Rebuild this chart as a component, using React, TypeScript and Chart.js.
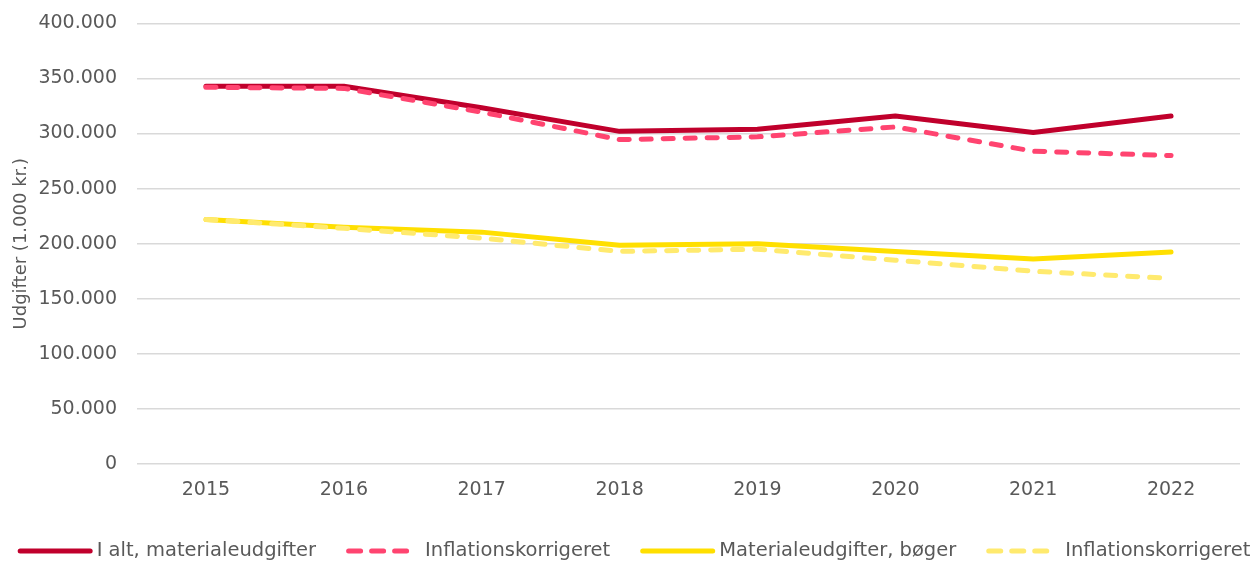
import React, { useEffect, useRef } from "react";
import { Chart, registerables } from "chart.js";

Chart.register(...registerables);

const years = ["2015", "2016", "2017", "2018", "2019", "2020", "2021", "2022"];
const iAltMaterialeudgifter = [343000, 343000, 323500, 302000, 304000, 316000, 301000, 316000];
const iAltInflationskorrigeret = [342000, 341000, 319500, 294500, 297000, 306000, 284000, 280000];
const boegerMaterialeudgifter = [222000, 215000, 210500, 198500, 200000, 193000, 186000, 192500];
const boegerInflationskorrigeret = [222000, 214000, 205000, 193000, 195000, 185000, 175000, 168500];
const yTicks = [0, 50000, 100000, 150000, 200000, 250000, 300000, 350000, 400000];
const seriesLabels = ["I alt, materialeudgifter", "Inflationskorrigeret", "Materialeudgifter, bøger", "Inflationskorrigeret"];
const seriesColors = ["#C0002C", "#FF4470", "#FFDF00", "#FFEA6E"];
const seriesDashed = [false, true, false, true];

const FONT = "'DejaVu Sans', sans-serif";
const TEXT = "#595959";

function fmt(v: number): string {
  const s = Math.round(v).toString();
  return s.replace(/\B(?=(\d{3})+(?!\d))/g, ".");
}

// Bottom legend drawn from the dataset list (legend order = original series order)
const bottomLegend = {
  id: "bottomLegend",
  afterDraw(chart: any) {
    const ctx = chart.ctx as CanvasRenderingContext2D;
    const datasets = chart.data.datasets as any[];
    const items = [...datasets].sort((a, b) => a.legendIndex - b.legendIndex);
    ctx.save();
    ctx.font = `19.5px ${FONT}`;
    const textOffset = 79;
    const gap = 30;
    const widths = items.map((d) => textOffset + ctx.measureText(d.label).width);
    const total = widths.reduce((a, b) => a + b, 0) + gap * (items.length - 1);
    let x = 634 - total / 2;
    const y = 551;
    items.forEach((d, i) => {
      ctx.save();
      ctx.strokeStyle = d.borderColor;
      ctx.lineWidth = 5;
      ctx.lineCap = "round";
      const dashed = d.borderDash && d.borderDash.length > 0;
      ctx.setLineDash(dashed ? [12, 11] : []);
      ctx.beginPath();
      ctx.moveTo(x + 2.5, y);
      ctx.lineTo(x + 2.5 + (dashed ? 58 : 70), y);
      ctx.stroke();
      ctx.restore();
      ctx.fillStyle = TEXT;
      ctx.textBaseline = "middle";
      ctx.textAlign = "left";
      ctx.fillText(d.label, x + textOffset, y);
      x += widths[i] + gap;
    });
    ctx.restore();
  },
};

export default function App() {
  const ref = useRef<HTMLCanvasElement | null>(null);
  useEffect(() => {
    if (!ref.current) return;
    const dash = [10, 12];
    const dataArrays = [iAltMaterialeudgifter, iAltInflationskorrigeret, boegerMaterialeudgifter, boegerInflationskorrigeret];
    const datasets = dataArrays
      .map((data, i) => ({
        label: seriesLabels[i],
        data,
        legendIndex: i,
        borderColor: seriesColors[i],
        backgroundColor: seriesColors[i],
        borderDash: seriesDashed[i] ? dash : [],
        borderWidth: 5,
        pointRadius: 0,
        borderCapStyle: "round" as const,
        borderJoinStyle: "round" as const,
        tension: 0,
      }))
      .reverse(); // first dataset is drawn on top: dashed above solid
    const chart = new Chart(ref.current, {
      type: "line",
      data: { labels: years, datasets },
      plugins: [bottomLegend],
      options: {
        animation: false,
        responsive: false,
        maintainAspectRatio: false,
        layout: { padding: { top: 0, right: 13, left: 0, bottom: 48 } },
        plugins: {
          tooltip: { enabled: false },
          legend: { display: false },
        },
        scales: {
          x: {
            offset: true,
            grid: { display: false },
            border: { display: false },
            ticks: { color: TEXT, font: { family: FONT, size: 19 }, padding: 7, maxRotation: 0 },
            afterFit: (s: any) => {
              s.height = 50;
            },
          },
          y: {
            min: 0,
            max: 400000,
            afterBuildTicks: (s: any) => {
              s.ticks = yTicks.map((v) => ({ value: v }));
            },
            grid: { color: "#D9D9D9", lineWidth: 1.5, drawTicks: true, tickLength: 8, tickColor: "rgba(0,0,0,0)" },
            border: { display: false },
            ticks: {
              color: TEXT,
              font: { family: FONT, size: 19 },
              padding: 12,
              callback: (v: any) => fmt(Number(v)),
            },
            title: {
              display: true,
              text: "Udgifter (1.000 kr.)",
              color: TEXT,
              font: { family: FONT, size: 18 },
              padding: { top: 11, bottom: 0 },
            },
            afterFit: (s: any) => {
              s.width = 137;
            },
          },
        },
      },
    });
    return () => chart.destroy();
  }, []);
  return (
    <div style={{ position: "fixed", left: 0, top: 0, width: 1253, height: 562, background: "#fff" }}>
      <canvas ref={ref} width={1253} height={562} style={{ width: 1253, height: 562, display: "block" }} />
    </div>
  );
}
